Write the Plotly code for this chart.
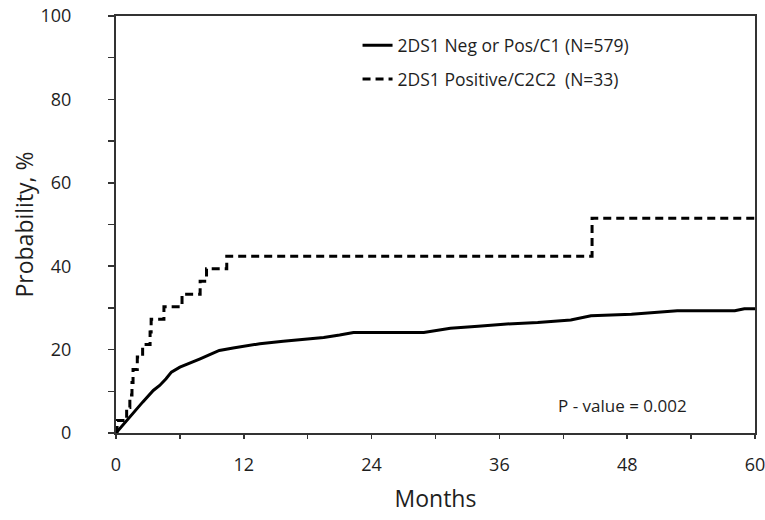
import plotly.graph_objects as go

# Dashed group: 2DS1 Positive/C2C2 (N=33) - step curve
pos_months = [0, 0.1, 1.0, 1.3, 1.5, 1.6, 2.0, 2.5, 3.2, 3.3, 4.5, 6.2, 7.9, 8.5, 10.4, 44.7, 60]
pos_prob = [0, 3.0, 6.1, 9.1, 12.1, 15.2, 18.2, 21.2, 24.2, 27.3, 30.3, 33.3, 36.4, 39.4, 42.4, 51.5, 51.5]

# Solid group: 2DS1 Neg or Pos/C1 (N=579)
neg_months = [0, 0.6, 1.6, 2.5, 3.5, 4.1, 4.7, 5.2, 6.0, 6.9, 7.9, 8.8, 9.7, 11.0, 12.5, 13.5,
              15.7, 18.2, 19.5, 21.0, 22.3, 28.9, 30.0, 31.4, 34.0, 36.4, 39.6, 42.7, 44.6,
              48.4, 52.7, 58.1, 59.0, 60]
neg_prob = [0, 1.8, 4.6, 7.4, 10.2, 11.4, 13.0, 14.6, 15.8, 16.7, 17.8, 18.8, 19.8, 20.4, 21.0, 21.4,
            22.0, 22.6, 22.9, 23.5, 24.1, 24.1, 24.6, 25.1, 25.6, 26.1, 26.5, 27.1, 28.1,
            28.5, 29.3, 29.3, 29.8, 29.8]

x_ticks = [0, 12, 24, 36, 48, 60]
y_ticks = [0, 20, 40, 60, 80, 100]

FONT = "Open Sans"
INK = "#1e1e1e"

fig = go.Figure()
fig.add_trace(go.Scatter(
    x=neg_months, y=neg_prob, mode="lines", line_shape="linear",
    line=dict(color="black", width=3),
    name="2DS1 Neg or Pos/C1 (N=579)", legendgroup="a"))
fig.add_trace(go.Scatter(
    x=pos_months, y=pos_prob, mode="lines", line_shape="hv",
    line=dict(color="black", width=3, dash="8px,5px"),
    name="2DS1 Positive/C2C2  (N=33)", legendgroup="b"))

fig.update_layout(
    width=765, height=520,
    margin=dict(l=116, r=10, t=16, b=87, autoexpand=False),
    paper_bgcolor="white", plot_bgcolor="white",
    font=dict(family=FONT, color=INK, size=17),
    showlegend=True,
    legend=dict(x=0.378, y=0.973, xanchor="left", yanchor="top",
                traceorder="grouped", tracegroupgap=8,
                font=dict(size=17.5, family=FONT, color=INK), bgcolor="rgba(0,0,0,0)"),
    annotations=[dict(text="P - value = 0.002", xref="paper", yref="paper",
                      x=0.792, y=0.065, xanchor="center", yanchor="middle", showarrow=False,
                      font=dict(size=17, family=FONT, color=INK))],
)
fig.update_xaxes(
    range=[0, 60], tickvals=x_ticks, ticktext=[str(v) for v in x_ticks],
    ticks="outside", ticklen=4, tickwidth=1.5, tickcolor="#333",
    minor=dict(dtick=6, tick0=0, ticks="outside", ticklen=4, tickwidth=1.5, tickcolor="#333"),
    showline=True, linecolor="#333", linewidth=2, mirror=True,
    showgrid=False, zeroline=False, automargin=False,
    ticklabelstandoff=10, ticklabeloverflow="allow",
    tickfont=dict(size=18, color=INK), title=dict(text="Months", font=dict(size=23, color=INK), standoff=16),
)
fig.update_yaxes(
    range=[0, 100], tickvals=y_ticks, ticktext=[str(v) for v in y_ticks],
    ticks="outside", ticklen=6, tickwidth=1.5, tickcolor="#333",
    minor=dict(dtick=10, tick0=0, ticks="outside", ticklen=6, tickwidth=1.5, tickcolor="#333"),
    showline=True, linecolor="#333", linewidth=2, mirror=True,
    showgrid=False, zeroline=False, automargin=False,
    ticklabelstandoff=33, ticklabeloverflow="allow",
    tickfont=dict(size=18, color=INK), title=dict(text="Probability, %", font=dict(size=23, color=INK), standoff=0),
)

# remove the page's default body margin so the figure fills the 765x520 window exactly
fig.write_html("out.html",
               config={"displayModeBar": False, "staticPlot": True},
               post_script="document.body.style.margin='0';document.body.style.overflow='hidden';")
